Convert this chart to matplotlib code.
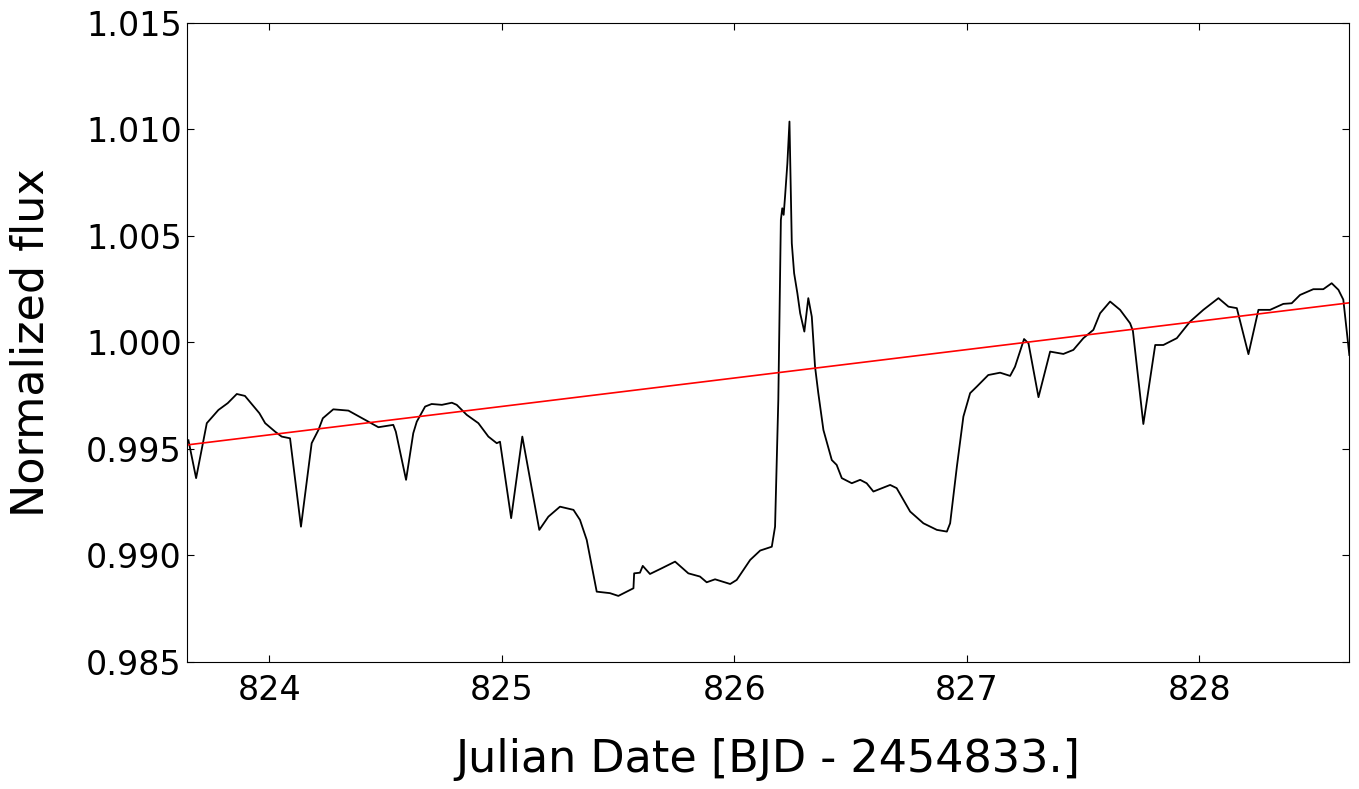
import matplotlib
matplotlib.use('Agg')
import matplotlib.pyplot as plt

# light curve
jd = [823.652, 823.685, 823.731, 823.781, 823.821, 823.860, 823.895, 823.957,
      823.982, 824.025, 824.053, 824.089, 824.136, 824.182, 824.211, 824.230,
      824.275, 824.340, 824.426, 824.469, 824.533, 824.544, 824.588, 824.619,
      824.634, 824.670, 824.698, 824.742, 824.785, 824.806, 824.849, 824.899,
      824.942, 824.978, 824.992, 825.040, 825.088, 825.161, 825.200, 825.250,
      825.308, 825.336, 825.365, 825.408, 825.465, 825.501, 825.537, 825.566,
      825.569, 825.594, 825.606, 825.637, 825.688, 825.745, 825.802, 825.852,
      825.881, 825.917, 825.982, 826.010, 826.068, 826.111, 826.161, 826.175,
      826.189, 826.200, 826.206, 826.212, 826.218, 826.228, 826.237, 826.247,
      826.257, 826.271, 826.283, 826.301, 826.318, 826.333, 826.347, 826.361,
      826.383, 826.419, 826.440, 826.462, 826.505, 826.541, 826.569, 826.598,
      826.670, 826.698, 826.756, 826.813, 826.871, 826.914, 826.928, 826.957,
      826.985, 827.014, 827.043, 827.092, 827.143, 827.186, 827.207, 827.246,
      827.265, 827.308, 827.358, 827.415, 827.458, 827.501, 827.544, 827.573,
      827.616, 827.659, 827.702, 827.714, 827.759, 827.810, 827.845, 827.903,
      827.960, 828.017, 828.082, 828.125, 828.161, 828.211, 828.254, 828.304,
      828.361, 828.397, 828.433, 828.490, 828.533, 828.569, 828.598, 828.619,
      828.645]
flux = [0.99540, 0.99362, 0.99620, 0.99682, 0.99714, 0.99757, 0.99748, 0.99667,
        0.99620, 0.99580, 0.99557, 0.99549, 0.99134, 0.99526, 0.99588, 0.99643,
        0.99685, 0.99679, 0.99627, 0.99601, 0.99612, 0.99580, 0.99354, 0.99573,
        0.99627, 0.99698, 0.99710, 0.99706, 0.99716, 0.99706, 0.99659, 0.99620,
        0.99557, 0.99526, 0.99533, 0.99174, 0.99557, 0.99119, 0.99181, 0.99228,
        0.99213, 0.99166, 0.99072, 0.98829, 0.98822, 0.98809, 0.98829, 0.98845,
        0.98915, 0.98918, 0.98950, 0.98912, 0.98939, 0.98970, 0.98915, 0.98900,
        0.98873, 0.98887, 0.98865, 0.98884, 0.98978, 0.99022, 0.99040, 0.99134,
        0.99729, 1.00574, 1.00629, 1.00598, 1.00684, 1.00840, 1.01036, 1.00465,
        1.00324, 1.00230, 1.00136, 1.00050, 1.00207, 1.00120, 0.99885, 0.99761,
        0.99588, 0.99447, 0.99424, 0.99362, 0.99338, 0.99354, 0.99338, 0.99299,
        0.99330, 0.99315, 0.99205, 0.99150, 0.99119, 0.99111, 0.99150, 0.99416,
        0.99651, 0.99761, 0.99792, 0.99846, 0.99857, 0.99842, 0.99885, 1.00015,
        0.99995, 0.99742, 0.99956, 0.99945, 0.99964, 1.00019, 1.00058, 1.00136,
        1.00191, 1.00152, 1.00089, 1.00054, 0.99616, 0.99987, 0.99987, 1.00019,
        1.00097, 1.00152, 1.00207, 1.00167, 1.00160, 0.99944, 1.00152, 1.00152,
        1.00180, 1.00183, 1.00222, 1.00249, 1.00249, 1.00277, 1.00246, 1.00200,
        0.99940]

# linear trend (red line)
trend_jd = [823.647, 828.645]
trend_flux = [0.99518, 1.00185]

xticks = [824, 825, 826, 827, 828]
yticks = [0.985, 0.990, 0.995, 1.000, 1.005, 1.010, 1.015]

fig = plt.figure(figsize=(13.59, 7.89), dpi=100)
ax = fig.add_axes([0.1378, 0.1613, 0.8551, 0.8099])

ax.plot(jd, flux, color='black', linewidth=1.3)
ax.plot(trend_jd, trend_flux, color='red', linewidth=1.2)

ax.set_xlim(823.647, 828.645)
ax.set_ylim(0.985, 1.015)
ax.set_xticks(xticks)
ax.set_xticklabels([str(t) for t in xticks])
ax.set_yticks(yticks)
ax.set_yticklabels(['%.3f' % t for t in yticks])

ax.tick_params(direction='in', top=True, right=True, length=5, width=0.8,
               labelsize=24)
ax.tick_params(axis='x', pad=9)
ax.tick_params(axis='y', pad=4)

ax.set_xlabel('Julian Date [BJD - 2454833.]', fontsize=32, labelpad=22)
ax.set_ylabel('Normalized flux', fontsize=32, labelpad=24)

fig.savefig('out.png', dpi=100)
